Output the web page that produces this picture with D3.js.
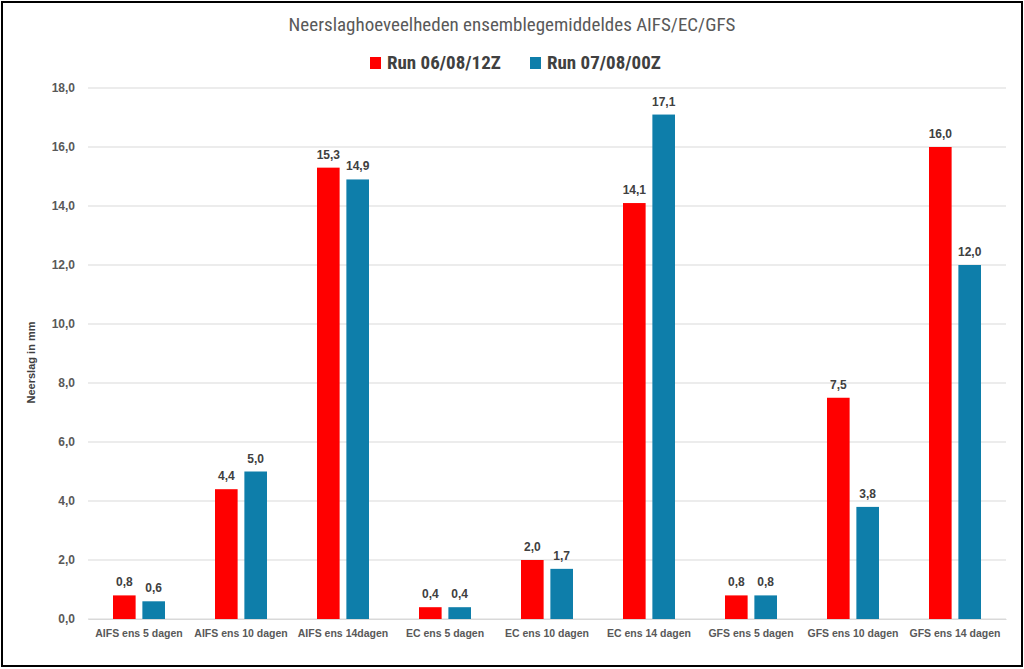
<!DOCTYPE html>
<html>
<head>
<meta charset="utf-8">
<script src="https://cdn.jsdelivr.net/npm/d3@7"></script>
<style>
  body { margin: 0; background: #fff; }
  svg text { font-family: "Liberation Sans", Arial, sans-serif; }
  svg text.narrow { font-family: "Liberation Sans Narrow", "Roboto Condensed", "Liberation Sans", sans-serif; }
</style>
</head>
<body>
<div id="chart"></div>
<script>
// data
var categories = ["AIFS ens 5 dagen", "AIFS ens 10 dagen", "AIFS ens 14dagen",
                  "EC ens 5 dagen", "EC ens 10 dagen", "EC ens 14 dagen",
                  "GFS ens 5 dagen", "GFS ens 10 dagen", "GFS ens 14 dagen"];
var seriesNames = ["Run 06/08/12Z", "Run 07/08/00Z"];
var run0612 = [0.8, 4.4, 15.3, 0.4, 2.0, 14.1, 0.8, 7.5, 16.0];
var run0700 = [0.6, 5.0, 14.9, 0.4, 1.7, 17.1, 0.8, 3.8, 12.0];
var yTicks = [0, 2, 4, 6, 8, 10, 12, 14, 16, 18];

function main()
{
    var W = 1024, H = 669;
    var margin = {top: 88, right: 18, bottom: 50, left: 88};
    var colors = ["#FF0000", "#0E7EAA"];
    var fmt = function(v) { return d3.format(".1f")(v).replace(".", ","); };

    var svg = d3.select("#chart").append("svg")
        .attr("width", W).attr("height", H);

    // outer frame
    svg.append("rect")
        .attr("x", 2).attr("y", 2).attr("width", W - 4).attr("height", H - 5)
        .attr("fill", "#fff").attr("stroke", "#000").attr("stroke-width", 2);

    var x = d3.scaleBand().domain(categories)
        .range([margin.left, W - margin.right]);
    var inner = d3.scaleBand().domain([0, 1])
        .range([25, x.bandwidth() - 25]).paddingInner(0.23);
    var y = d3.scaleLinear().domain([0, 18])
        .range([H - margin.bottom, margin.top]);

    // gridlines
    svg.append("g").selectAll("line").data(yTicks).enter().append("line")
        .attr("x1", margin.left).attr("x2", W - margin.right)
        .attr("y1", function(d) { return y(d); })
        .attr("y2", function(d) { return y(d); })
        .attr("stroke", "#d9d9d9").attr("stroke-width", 1);

    // y axis labels
    var yAxis = svg.append("g")
        .attr("transform", "translate(" + margin.left + ",0)")
        .call(d3.axisLeft(y).tickValues(yTicks).tickFormat(fmt).tickSize(0).tickPadding(13));
    yAxis.select(".domain").remove();
    yAxis.selectAll("text")
        .attr("fill", "#595959").style("font-size", "12px").style("font-weight", "bold");

    // x axis labels
    var xAxis = svg.append("g")
        .attr("transform", "translate(0," + y(0) + ")")
        .call(d3.axisBottom(x).tickSize(0).tickPadding(11));
    xAxis.select(".domain").attr("stroke", "#d9d9d9");
    xAxis.selectAll("text")
        .attr("fill", "#595959").style("font-size", "10.5px").style("font-weight", "bold");

    var series = [run0612, run0700];
    var groups = svg.append("g").selectAll("g").data(series).enter().append("g")
        .attr("fill", function(d, i) { return colors[i]; });

    groups.each(function(vals, si) {
        var g = d3.select(this);
        g.selectAll("rect").data(vals).enter().append("rect")
            .attr("x", function(d, i) { return x(categories[i]) + inner(si); })
            .attr("y", function(d) { return y(d); })
            .attr("width", inner.bandwidth())
            .attr("height", function(d) { return y(0) - y(d); });
        g.selectAll("text").data(vals).enter().append("text")
            .attr("x", function(d, i) { return x(categories[i]) + inner(si) + inner.bandwidth() / 2; })
            .attr("y", function(d) { return y(d) - 9; })
            .attr("text-anchor", "middle")
            .attr("fill", "#404040")
            .style("font-size", "12px").style("font-weight", "bold")
            .text(fmt);
    });

    // title
    svg.append("text").attr("class", "narrow")
        .attr("x", W / 2).attr("y", 31)
        .attr("text-anchor", "middle")
        .attr("fill", "#595959").style("font-size", "19px")
        .text("Neerslaghoeveelheden ensemblegemiddeldes AIFS/EC/GFS");

    // legend
    var legX = [370, 530];
    var leg = svg.append("g").selectAll("g").data(seriesNames).enter().append("g")
        .attr("transform", function(d, i) { return "translate(" + legX[i] + ",57)"; });
    leg.append("rect").attr("width", 11).attr("height", 12)
        .attr("fill", function(d, i) { return colors[i]; });
    leg.append("text").attr("class", "narrow").attr("x", 17).attr("y", 12)
        .attr("fill", "#404040").style("font-size", "19px").style("font-weight", "bold")
        .text(function(d) { return d; });

    // y axis title
    svg.append("text")
        .attr("transform", "translate(35," + ((y(0) + y(18)) / 2 + 9) + ") rotate(-90)")
        .attr("text-anchor", "middle")
        .attr("fill", "#404040").style("font-size", "11px").style("font-weight", "bold")
        .text("Neerslag in mm");
}
main();
</script>
</body>
</html>
